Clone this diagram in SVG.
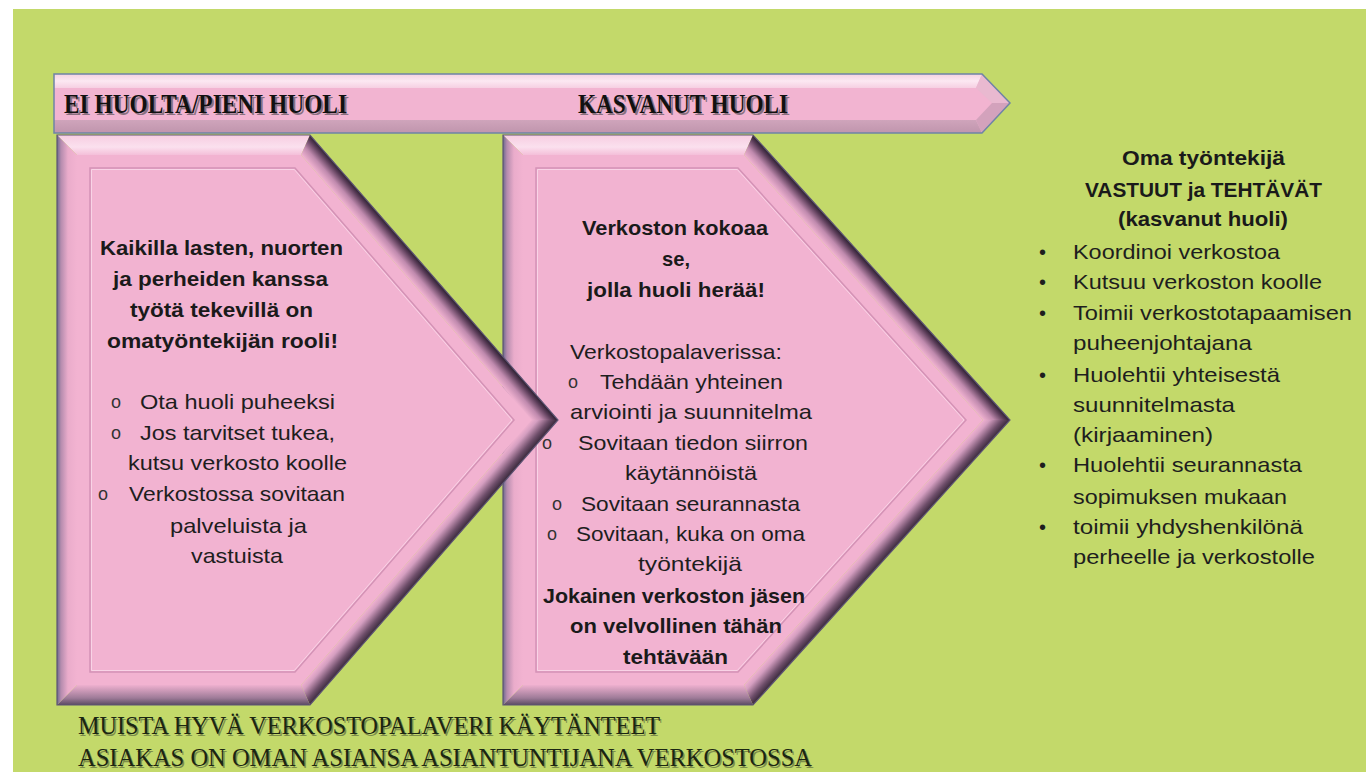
<svg xmlns="http://www.w3.org/2000/svg" width="1366" height="772" viewBox="0 0 1366 772">
<defs>
<style>
.face{fill:#f2b3d1}
.outline{fill:none;stroke:#5e5474;stroke-width:1.2}
.inl{fill:none;stroke:#d493b6;stroke-width:1.5}
.inl2{fill:none;stroke:#f9d3e6;stroke-width:1}
.b{font-family:"Liberation Sans",Arial,sans-serif;font-weight:bold;font-size:21px;fill:#1a1a1a}
.r{font-family:"Liberation Sans",Arial,sans-serif;font-size:21px;fill:#1e1e1e}
.bul{font-family:"Liberation Sans",Arial,sans-serif;font-size:18px;fill:#333}
.dot{font-family:"Liberation Sans",Arial,sans-serif;font-size:20px;fill:#1e1e1e}
.hd{font-family:"Liberation Serif","Times New Roman",serif;font-weight:bold;font-size:28px;fill:#111}
.hds{font-family:"Liberation Serif","Times New Roman",serif;font-weight:bold;font-size:28px;fill:#8a7080}
.ft{font-family:"Liberation Serif","Times New Roman",serif;font-size:26px;fill:#1b2612}
.fts{font-family:"Liberation Serif","Times New Roman",serif;font-size:26px;fill:#7d8d4a}
</style>
<linearGradient id="gTop" x1="0" y1="0" x2="0" y2="1"><stop offset="0" stop-color="#f6cde1"/><stop offset="0.6" stop-color="#fbe0ee"/><stop offset="1" stop-color="#f4bfd9"/></linearGradient>
<linearGradient id="gLeft" x1="0" y1="0" x2="1" y2="0"><stop offset="0" stop-color="#6d6a8e"/><stop offset="0.2" stop-color="#b58cae"/><stop offset="0.55" stop-color="#eaaccb"/><stop offset="1" stop-color="#f2b3d1"/></linearGradient>
<linearGradient id="gBot" x1="0" y1="1" x2="0" y2="0"><stop offset="0" stop-color="#5a4a62"/><stop offset="0.35" stop-color="#9e7b98"/><stop offset="1" stop-color="#eeb0cf"/></linearGradient>
<linearGradient id="gU1" gradientUnits="userSpaceOnUse" x1="434" y1="277.5" x2="418.9" y2="290.6"><stop offset="0" stop-color="#2a2030"/><stop offset="0.2" stop-color="#5a3c58"/><stop offset="0.6" stop-color="#c08aae"/><stop offset="1" stop-color="#f1b3d1"/></linearGradient>
<linearGradient id="gL1" gradientUnits="userSpaceOnUse" x1="434" y1="562.5" x2="418.9" y2="549.4"><stop offset="0" stop-color="#3a2a3c"/><stop offset="0.3" stop-color="#6e4e6a"/><stop offset="0.75" stop-color="#d49ec0"/><stop offset="1" stop-color="#efb1cf"/></linearGradient>
<linearGradient id="gU2" gradientUnits="userSpaceOnUse" x1="881.5" y1="277.5" x2="866.65" y2="290.9"><stop offset="0" stop-color="#2a2030"/><stop offset="0.2" stop-color="#5a3c58"/><stop offset="0.6" stop-color="#c08aae"/><stop offset="1" stop-color="#f1b3d1"/></linearGradient>
<linearGradient id="gL2" gradientUnits="userSpaceOnUse" x1="881.5" y1="562.5" x2="866.65" y2="549.1"><stop offset="0" stop-color="#3a2a3c"/><stop offset="0.3" stop-color="#6e4e6a"/><stop offset="0.75" stop-color="#d49ec0"/><stop offset="1" stop-color="#efb1cf"/></linearGradient>
<linearGradient id="gBandTop" x1="0" y1="0" x2="0" y2="1"><stop offset="0" stop-color="#f4d2e2"/><stop offset="0.5" stop-color="#fce8f2"/><stop offset="1" stop-color="#f6cfe2"/></linearGradient>
<linearGradient id="gBandBot" x1="0" y1="0" x2="0" y2="1"><stop offset="0" stop-color="#cfa4bb"/><stop offset="1" stop-color="#c095ad"/></linearGradient>
</defs>
<rect x="0" y="0" width="1366" height="772" fill="#ffffff"/>
<rect x="13" y="9" width="1353" height="763" fill="#c3d96a"/>

<g id="connectors"></g>

<g id="chevron2">
<polygon class="face" points="523,155 744,155 983,420 744,685 523,685"/>
<polygon fill="url(#gTop)" points="503,135 753,135 744,155 523,155"/>
<polygon fill="url(#gU2)" points="753,135 1010,420 983,420 744,155"/>
<polygon fill="url(#gL2)" points="1010,420 753,705 744,685 983,420"/>
<polygon fill="url(#gBot)" points="753,705 503,705 523,685 744,685"/>
<polygon fill="url(#gLeft)" points="503,705 503,135 523,155 523,685"/>
<polygon class="inl" points="536,168 738,168 966,420 738,672 536,672"/>
<polygon class="inl2" points="537.5,169.5 737.3,169.5 964,420 737.3,670.5 537.5,670.5"/>
<polygon class="outline" points="503,135 753,135 1010,420 753,705 503,705"/>
<text class="b" x="582" y="235" textLength="186" lengthAdjust="spacingAndGlyphs">Verkoston kokoaa</text>
<text class="b" x="662" y="266" textLength="28" lengthAdjust="spacingAndGlyphs">se,</text>
<text class="b" x="587" y="297" textLength="178" lengthAdjust="spacingAndGlyphs">jolla huoli herää!</text>
<text class="r" x="570" y="359" textLength="212" lengthAdjust="spacingAndGlyphs">Verkostopalaverissa:</text>
<text class="bul" x="568" y="388">o</text>
<text class="r" x="600" y="389" textLength="183" lengthAdjust="spacingAndGlyphs">Tehdään yhteinen</text>
<text class="r" x="570" y="419" textLength="242" lengthAdjust="spacingAndGlyphs">arviointi ja suunnitelma</text>
<text class="bul" x="542" y="449">o</text>
<text class="r" x="578" y="450" textLength="230" lengthAdjust="spacingAndGlyphs">Sovitaan tiedon siirron</text>
<text class="r" x="625" y="480" textLength="132" lengthAdjust="spacingAndGlyphs">käytännöistä</text>
<text class="bul" x="552" y="510">o</text>
<text class="r" x="581" y="511" textLength="219" lengthAdjust="spacingAndGlyphs">Sovitaan seurannasta</text>
<text class="bul" x="547" y="540">o</text>
<text class="r" x="576" y="541" textLength="229" lengthAdjust="spacingAndGlyphs">Sovitaan, kuka on oma</text>
<text class="r" x="638" y="571" textLength="104" lengthAdjust="spacingAndGlyphs">työntekijä</text>
<text class="b" x="543" y="603" textLength="262" lengthAdjust="spacingAndGlyphs">Jokainen verkoston jäsen</text>
<text class="b" x="570" y="633" textLength="212" lengthAdjust="spacingAndGlyphs">on velvollinen tähän</text>
<text class="b" x="623" y="664" textLength="105" lengthAdjust="spacingAndGlyphs">tehtävään</text>
</g>

<g id="chevron1">
<polygon class="face" points="77,155 301,155 531.5,420 301,685 77,685"/>
<polygon fill="url(#gTop)" points="57,135 310,135 301,155 77,155"/>
<polygon fill="url(#gU1)" points="310,135 558,420 531.5,420 301,155"/>
<polygon fill="url(#gL1)" points="558,420 310,705 301,685 531.5,420"/>
<polygon fill="url(#gBot)" points="310,705 57,705 77,685 301,685"/>
<polygon fill="url(#gLeft)" points="57,705 57,135 77,155 77,685"/>
<polygon class="inl" points="90,168 295,168 514,420 295,672 90,672"/>
<polygon class="inl2" points="91.5,169.5 294.3,169.5 512,420 294.3,670.5 91.5,670.5"/>
<polygon class="outline" points="57,135 310,135 558,420 310,705 57,705"/>
<text class="b" x="100" y="255" textLength="243" lengthAdjust="spacingAndGlyphs">Kaikilla lasten, nuorten</text>
<text class="b" x="113" y="286" textLength="215" lengthAdjust="spacingAndGlyphs">ja perheiden kanssa</text>
<text class="b" x="130" y="317" textLength="183" lengthAdjust="spacingAndGlyphs">työtä tekevillä on</text>
<text class="b" x="107" y="348" textLength="231" lengthAdjust="spacingAndGlyphs">omatyöntekijän rooli!</text>
<text class="bul" x="111" y="408">o</text>
<text class="r" x="140" y="409" textLength="195" lengthAdjust="spacingAndGlyphs">Ota huoli puheeksi</text>
<text class="bul" x="111" y="439">o</text>
<text class="r" x="140" y="440" textLength="195" lengthAdjust="spacingAndGlyphs">Jos tarvitset tukea,</text>
<text class="r" x="128" y="470" textLength="219" lengthAdjust="spacingAndGlyphs">kutsu verkosto koolle</text>
<text class="bul" x="98" y="500">o</text>
<text class="r" x="129" y="501" textLength="216" lengthAdjust="spacingAndGlyphs">Verkostossa sovitaan</text>
<text class="r" x="170" y="533" textLength="137" lengthAdjust="spacingAndGlyphs">palveluista ja</text>
<text class="r" x="191" y="563" textLength="92" lengthAdjust="spacingAndGlyphs">vastuista</text>
</g>

<g id="band">
<polygon fill="#f2b4d1" points="54,74 982,74 1010,103 982,133 54,133"/>
<polygon fill="url(#gBandTop)" points="54,74 982,74 976,88 54,88"/>
<polygon fill="#e9b9d0" points="982,74 1010,103 992,103 976,88"/>
<polygon fill="#d3a2bc" points="1010,103 982,133 976,120 992,103"/>
<polygon fill="url(#gBandBot)" points="54,120 976,120 982,133 54,133"/>
<polygon fill="none" stroke="#6f84a6" stroke-width="1.5" points="54,74 982,74 1010,103 982,133 54,133"/>
<text class="hds" x="66" y="115" textLength="283" lengthAdjust="spacingAndGlyphs">EI HUOLTA/PIENI HUOLI</text>
<text class="hd" x="64" y="113" textLength="283" lengthAdjust="spacingAndGlyphs">EI HUOLTA/PIENI HUOLI</text>
<text class="hds" x="580" y="115" textLength="210" lengthAdjust="spacingAndGlyphs">KASVANUT HUOLI</text>
<text class="hd" x="578" y="113" textLength="210" lengthAdjust="spacingAndGlyphs">KASVANUT HUOLI</text>
</g>

<g id="responsibilities">
<text class="b" x="1122" y="165" textLength="163" lengthAdjust="spacingAndGlyphs">Oma työntekijä</text>
<text class="b" x="1085" y="197" textLength="237" lengthAdjust="spacingAndGlyphs">VASTUUT ja TEHTÄVÄT</text>
<text class="b" x="1118" y="226" textLength="170" lengthAdjust="spacingAndGlyphs">(kasvanut huoli)</text>
<text class="dot" x="1039" y="259">•</text>
<text class="r" x="1073" y="259" textLength="207" lengthAdjust="spacingAndGlyphs">Koordinoi verkostoa</text>
<text class="dot" x="1039" y="289">•</text>
<text class="r" x="1073" y="289" textLength="249" lengthAdjust="spacingAndGlyphs">Kutsuu verkoston koolle</text>
<text class="dot" x="1039" y="320">•</text>
<text class="r" x="1073" y="320" textLength="279" lengthAdjust="spacingAndGlyphs">Toimii verkostotapaamisen</text>
<text class="r" x="1073" y="350" textLength="179" lengthAdjust="spacingAndGlyphs">puheenjohtajana</text>
<text class="dot" x="1039" y="382">•</text>
<text class="r" x="1073" y="382" textLength="207" lengthAdjust="spacingAndGlyphs">Huolehtii yhteisestä</text>
<text class="r" x="1073" y="412" textLength="162" lengthAdjust="spacingAndGlyphs">suunnitelmasta</text>
<text class="r" x="1073" y="442" textLength="140" lengthAdjust="spacingAndGlyphs">(kirjaaminen)</text>
<text class="dot" x="1039" y="472">•</text>
<text class="r" x="1073" y="472" textLength="229" lengthAdjust="spacingAndGlyphs">Huolehtii seurannasta</text>
<text class="r" x="1073" y="504" textLength="214" lengthAdjust="spacingAndGlyphs">sopimuksen mukaan</text>
<text class="dot" x="1039" y="534">•</text>
<text class="r" x="1073" y="534" textLength="230" lengthAdjust="spacingAndGlyphs">toimii yhdyshenkilönä</text>
<text class="r" x="1073" y="564" textLength="242" lengthAdjust="spacingAndGlyphs">perheelle ja verkostolle</text>
</g>

<g id="footer">
<text class="fts" x="79.5" y="735.5" textLength="582" lengthAdjust="spacingAndGlyphs">MUISTA HYVÄ VERKOSTOPALAVERI KÄYTÄNTEET</text>
<text class="ft" x="78" y="734" textLength="582" lengthAdjust="spacingAndGlyphs">MUISTA HYVÄ VERKOSTOPALAVERI KÄYTÄNTEET</text>
<text class="fts" x="79.5" y="767.5" textLength="734" lengthAdjust="spacingAndGlyphs">ASIAKAS ON OMAN ASIANSA ASIANTUNTIJANA VERKOSTOSSA</text>
<text class="ft" x="78" y="766" textLength="734" lengthAdjust="spacingAndGlyphs">ASIAKAS ON OMAN ASIANSA ASIANTUNTIJANA VERKOSTOSSA</text>
</g>
</svg>
